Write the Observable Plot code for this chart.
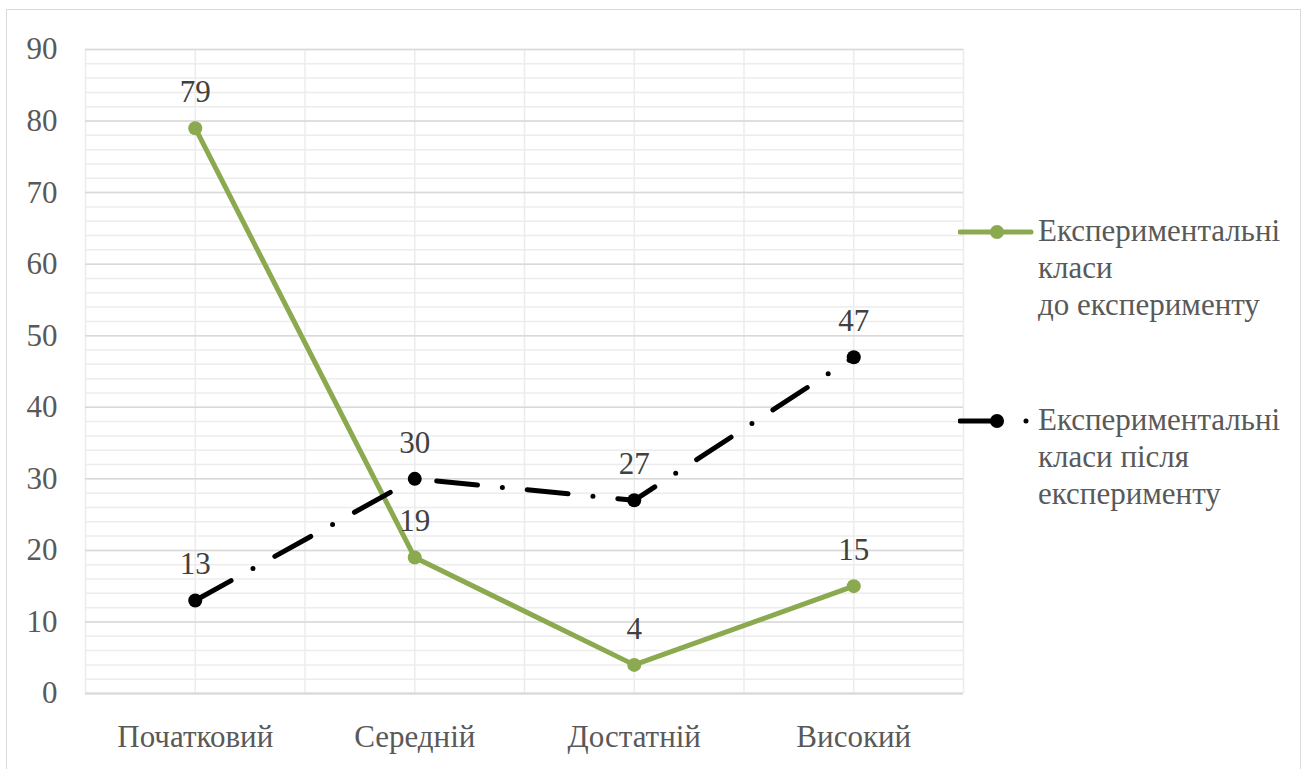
<!DOCTYPE html>
<html>
<head>
<meta charset="utf-8">
<script src="https://cdn.jsdelivr.net/npm/d3@7"></script>
<script src="https://cdn.jsdelivr.net/npm/@observablehq/plot@0.6"></script>
<style>
  html, body { margin: 0; padding: 0; background: #fff; }
  #frame { position: relative; width: 1308px; height: 769px; overflow: hidden; font-family: 'Liberation Serif', 'Times New Roman', serif !important; }
  #border { position: absolute; left: 6px; top: 9px; width: 1295px; height: 800px; border: 1.5px solid #d9d9d9; box-sizing: border-box; }
  #chart { position: absolute; left: 0; top: 0; }
  .legend-item { position: absolute; left: 958px; }
  .legend-item svg { position: absolute; left: 0; }
  .legend-text { position: absolute; left: 80px; font-size: 31px; line-height: 37px; color: #595959; white-space: nowrap; }
</style>
</head>
<body>
<div id="frame">
  <div id="border"></div>
  <div id="chart"></div>
  <div id="legend"></div>
</div>
<script>
// Achievement levels (categories along x)
const levels = ["Початковий", "Середній", "Достатній", "Високий"];
// Share of pupils per level, %
const beforeValues = [79, 19, 4, 15];
const afterValues = [13, 30, 27, 47];
// Series names, split into the lines shown in the legend
const beforeLabel = ["Експериментальні", "класи", "до експерименту"];
const afterLabel = ["Експериментальні", "класи після", "експерименту"];
// Axis ticks
const majorTicks = d3.range(0, 91, 10);
const minorTicks = d3.range(0, 91, 2);
const columnLines = d3.range(-0.5, 3.51, 0.5);

const serif = "'Liberation Serif', 'Times New Roman', serif";
const green = "#8ba94f";
const black = "#000000";
const dash = "41,25,0,25";

const before = levels.map((l, i) => ({i, level: l, value: beforeValues[i]}));
const after = levels.map((l, i) => ({i, level: l, value: afterValues[i]}));

const chart = Plot.plot({
  width: 1308,
  height: 769,
  marginLeft: 85,
  marginRight: 345,
  marginTop: 49,
  marginBottom: 76,
  style: {background: "transparent", overflow: "visible"},
  x: {type: "linear", domain: [-0.5, 3.5], axis: null},
  y: {domain: [0, 90], axis: null},
  marks: [
    Plot.ruleX(columnLines, {stroke: "#ececec", strokeWidth: 1.5}),
    Plot.ruleY(minorTicks, {stroke: "#ececec", strokeWidth: 1.5}),
    Plot.ruleY(majorTicks, {stroke: "#d9d9d9", strokeWidth: 1.5}),
    Plot.ruleY([0], {stroke: "#d9d9d9", strokeWidth: 2}),
    Plot.axisY(majorTicks, {tickSize: 0, tickPadding: 28, fontSize: 31, fontFamily: serif, fill: "#595959", label: null}),
    Plot.axisX([0, 1, 2, 3], {tickSize: 0, tickPadding: 31, fontSize: 31, fontFamily: serif, fill: "#595959", label: null, tickFormat: i => levels[i]}),
    Plot.line(before, {x: "i", y: "value", stroke: green, strokeWidth: 5, strokeLinejoin: "round"}),
    Plot.dot(before, {x: "i", y: "value", r: 7, fill: green, stroke: "none"}),
    Plot.line(after, {x: "i", y: "value", stroke: black, strokeWidth: 5, strokeDasharray: dash, strokeLinecap: "round", strokeLinejoin: "round"}),
    Plot.dot(after, {x: "i", y: "value", r: 7, fill: black, stroke: "none"}),
    Plot.text(before, {x: "i", y: "value", text: d => String(d.value), dy: -36, lineAnchor: "middle", fontSize: 31, fontFamily: serif, fill: "#404040"}),
    Plot.text(after, {x: "i", y: "value", text: d => String(d.value), dy: -36, lineAnchor: "middle", fontSize: 31, fontFamily: serif, fill: "#404040"})
  ]
});
document.getElementById("chart").appendChild(chart);
// the serif face is set inline, with priority, on the svg and every group and text in it
[chart, ...chart.querySelectorAll("g, text")].forEach(el => el.style.setProperty("font-family", serif, "important"));

// Legend: line swatch with marker, then the wrapped series name
function legendItem(top, color, dashed, lines) {
  const item = document.createElement("div");
  item.className = "legend-item";
  item.style.top = top + "px";
  const svg = d3.create("svg").attr("width", 80).attr("height", 20).style("top", "-10px");
  svg.append("line").attr("x1", 2).attr("x2", 73).attr("y1", 10).attr("y2", 10)
    .attr("stroke", color).attr("stroke-width", 5)
    .attr("stroke-linecap", "round")
    .attr("stroke-dasharray", dashed ? dash : null);
  svg.append("circle").attr("cx", 39).attr("cy", 10).attr("r", 7).attr("fill", color);
  item.appendChild(svg.node());
  const text = document.createElement("div");
  text.className = "legend-text";
  text.style.top = "-20px";
  text.style.setProperty("font-family", serif, "important");
  text.innerHTML = lines.join("<br>");
  item.appendChild(text);
  document.getElementById("legend").appendChild(item);
}
legendItem(232, green, false, beforeLabel);
legendItem(421, black, true, afterLabel);
</script>
</body>
</html>
